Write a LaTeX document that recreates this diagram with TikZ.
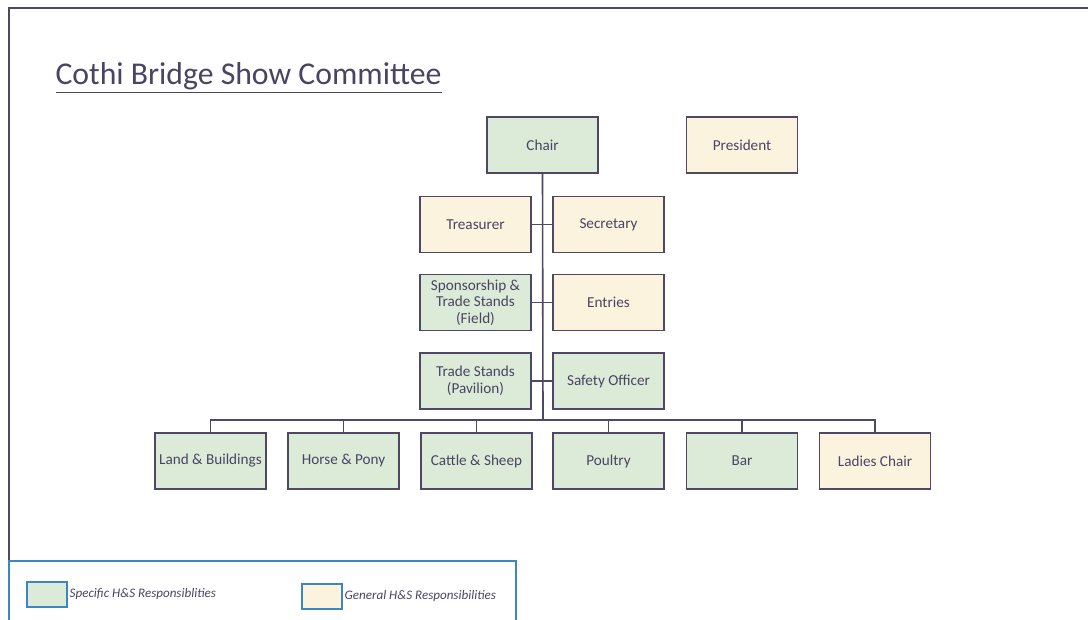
\documentclass[tikz,border=0pt]{standalone}
\usepackage{fontspec}
\setmainfont{Carlito}

\definecolor{boxline}{RGB}{78,72,102}
\definecolor{txtcol}{RGB}{74,68,99}
\definecolor{hsgreen}{RGB}{220,235,215}
\definecolor{hsbeige}{RGB}{252,243,223}
\definecolor{legline}{RGB}{60,134,200}

\tikzset{every picture/.style={line width=0.75pt}}
\tikzset{
  role/.style={draw=boxline, line width=1.2pt, minimum width=83.25pt, minimum height=42pt,
    inner sep=0.5pt, align=center, text=txtcol, font=\fontsize{11.4}{12.4}\selectfont},
  hsspec/.style={role, fill=hsgreen},
  hsgen/.style={role, fill=hsbeige},
  keybox/.style={draw=legline, line width=1.2pt, minimum width=30pt, minimum height=18.75pt, inner sep=0pt},
  keytext/.style={anchor=west, inner sep=1pt, text=txtcol, font=\fontsize{9.8}{11}\selectfont\itshape},
  link/.style={draw=boxline, line width=1.2pt}
}

\begin{document}
\begin{tikzpicture}[x=0.75pt,y=0.75pt,yscale=-1,xscale=1]
\useasboundingbox (0,0) rectangle (1088,620);

%Page frame
\draw [boxline, line width=1.2pt] (9,620) -- (9,8) -- (1088,8) ;

% Title
\node [anchor=base west, inner sep=0pt, text=txtcol, font=\fontsize{23.8}{28}\selectfont] (title) at (55,85) {\underline{Cothi Bridge Show Committee}};

% Top row
\node [hsspec] (chair) at (542.5,145) {Chair};
\node [hsgen] (president) at (742,145) {President};

% Officers
\node [hsgen] (treasurer) at (475.5,224.5) {Treasurer};
\node [hsgen] (secretary) at (608.5,224.5) {Secretary};
\node [hsspec] (sponsor) at (475.5,302.5) {Sponsorship \&\\Trade Stands\\(Field)};
\node [hsgen] (entries) at (608.5,302.5) {Entries};
\node [hsspec] (pavilion) at (475.5,381) {Trade Stands\\(Pavilion)};
\node [hsspec] (safety) at (608.5,381) {Safety Officer};

% Sections
\node [hsspec] (land) at (210.5,461) {Land \& Buildings};
\node [hsspec] (horse) at (343.5,461) {Horse \& Pony};
\node [hsspec] (cattle) at (476.5,461) {Cattle \& Sheep};
\node [hsspec] (poultry) at (608.5,461) {Poultry};
\node [hsspec] (bar) at (742,461) {Bar};
\node [hsgen] (ladies) at (875,461) {Ladies Chair};

% Connectors
\coordinate (bus) at (543,420);
\draw [link] (chair.south) -- (bus);
\draw [link] (treasurer.east) -- (secretary.west);
\draw [link] (sponsor.east) -- (entries.west);
\draw [link] (pavilion.east) -- (safety.west);
\foreach \sec in {land,horse,cattle,poultry,bar,ladies}
  \draw [link] (bus) -| (\sec.north);

% Legend
\draw [legline, line width=1.2pt] (9,620) -- (9,561) -- (516,561) -- (516,620) ;
\node [keybox, fill=hsgreen] (keyspec) at (47,594.5) {};
\node [keytext] (keyspectxt) at (keyspec.east) {Specific H\&S Responsiblities};
\node [keybox, fill=hsbeige] (keygen) at (322,596.5) {};
\node [keytext] (keygentxt) at (keygen.east) {General H\&S Responsibilities};

\end{tikzpicture}
\end{document}
